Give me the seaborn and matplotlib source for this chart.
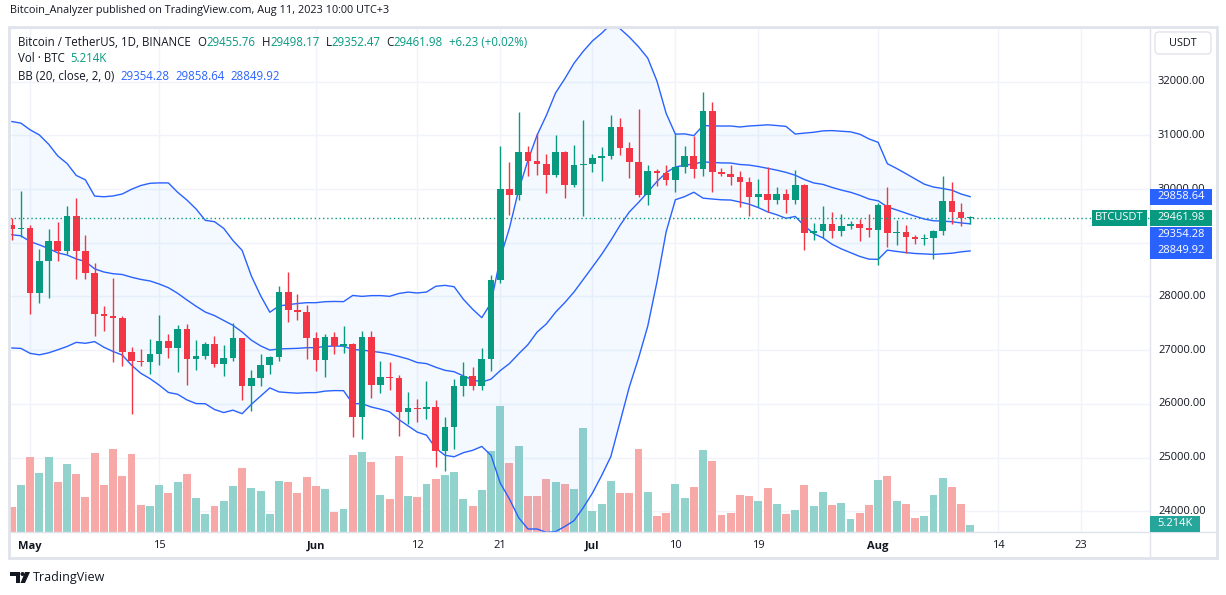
import numpy as np
import pandas as pd
import matplotlib
matplotlib.use("Agg")
import matplotlib.pyplot as plt
import seaborn as sns
from matplotlib.patches import Rectangle, FancyBboxPatch, Polygon
from matplotlib.lines import Line2D
from matplotlib.transforms import blended_transform_factory

sns.set_theme(style="white")
plt.rcParams['font.family'] = ['Open Sans', 'DejaVu Sans']

# ---------------- data (BTCUSDT 1D, Binance) ----------------
dates = pd.date_range('2023-04-29', '2023-08-11', freq='D')

opens = [29340, 29248, 29268, 28068, 28670, 29026, 28838, 29506, 28848, 28430,
         27668, 27628, 27598, 26969, 26805, 26784, 26931, 27171, 27036, 27398,
         26833, 26890, 27113, 26747, 26851, 27225, 26334, 26476, 26719, 26868,
         28085, 27745, 27702, 27219, 26819, 27249, 27075, 27119, 25760, 27238,
         26345, 26498, 26477, 25841, 25925, 25903, 25940, 25125, 25575, 26333,
         26511, 26336, 26842, 28307, 29993, 29886, 30688, 30527, 30462, 30267,
         30692, 30078, 30445, 30472, 30585, 30617, 31156, 30766, 30504, 29895,
         30346, 30292, 30171, 30414, 30620, 30380, 31454, 30312, 30289, 30231,
         30138, 29859, 29910, 29800, 29908, 29792, 30083, 29176, 29228, 29354,
         29211, 29314, 29352, 29281, 29232, 29705, 29186, 29193, 29113, 29072,
         29088, 29211, 29770, 29582, 29455.76]
highs = [29468, 29960, 29338, 28880, 29266, 29379, 29677, 29840, 29138, 28631,
         27820, 28336, 27638, 27055, 27030, 27200, 27659, 27299, 27465, 27487,
         27183, 27156, 27265, 27099, 27500, 27225, 26634, 26933, 26888, 28193,
         28447, 28045, 27835, 27347, 27300, 27333, 27450, 27129, 27350, 27355,
         26800, 26783, 26530, 26221, 26100, 26428, 26080, 25750, 26471, 26775,
         26689, 27046, 28400, 30800, 30500, 31431, 30800, 31046, 30662, 31000,
         30703, 30828, 31282, 30660, 30791, 31380, 31325, 30878, 31500, 30449,
         30383, 30445, 31045, 30800, 30980, 31804, 31630, 30390, 30440, 30336,
         30233, 30184, 30417, 30045, 29999, 30350, 30099, 29376, 29690, 29567,
         29530, 29400, 29449, 29530, 29739, 30047, 29433, 29333, 29152, 29170,
         29244, 30244, 30136, 29739, 29498.17]
lows = [29059, 29100, 27666, 27872, 27963, 28667, 28800, 28330, 28331, 27260,
        27353, 26777, 26706, 25811, 26700, 26560, 26733, 26852, 26600, 26361,
        26636, 26833, 26678, 26527, 26800, 26081, 25871, 26337, 26554, 26800,
        27524, 27562, 26839, 26605, 26508, 26920, 26947, 25388, 25351, 26117,
        26206, 26265, 25400, 25620, 25662, 25720, 24820, 24758, 25160, 26156,
        26250, 26256, 26618, 28260, 29525, 29800, 30250, 30270, 29920, 30226,
        29838, 30036, 29500, 30320, 30155, 30560, 30636, 30200, 29850, 29701,
        30050, 30075, 29950, 30300, 30200, 30250, 29940, 30250, 30080, 29659,
        29500, 29671, 29565, 29720, 29560, 29730, 28861, 29047, 29096, 29083,
        29125, 29256, 29033, 29101, 28585, 28927, 28968, 28803, 28978, 28963,
        28701, 29152, 29350, 29316, 29352.47]
closes = [29248, 29268, 28068, 28670, 29026, 28838, 29506, 28848, 28430, 27668,
          27628, 27598, 26969, 26805, 26784, 26931, 27171, 27036, 27398, 26833,
          26890, 27113, 26747, 26851, 27225, 26334, 26476, 26719, 26868, 28085,
          27745, 27702, 27219, 26819, 27249, 27075, 27119, 25760, 27238, 26345,
          26498, 26477, 25841, 25925, 25903, 25940, 25125, 25575, 26333, 26511,
          26336, 26842, 28307, 29993, 29886, 30688, 30527, 30462, 30267, 30692,
          30078, 30445, 30472, 30585, 30617, 31156, 30766, 30504, 29895, 30346,
          30292, 30171, 30414, 30620, 30380, 31454, 30312, 30289, 30231, 30138,
          29859, 29910, 29800, 29908, 29792, 30083, 29176, 29228, 29354, 29211,
          29314, 29352, 29281, 29232, 29705, 29186, 29193, 29113, 29072, 29088,
          29211, 29770, 29582, 29455.76, 29461.98]
# volume in thousand BTC
volumes = [19.5, 36.3, 58.4, 45.9, 58.4, 38.9, 52.7, 45.1, 27.2, 61.5,
           36.6, 64.4, 43.6, 60.5, 21.0, 20.2, 36.6, 30.4, 38.9, 45.1,
           26.5, 14.0, 20.2, 24.1, 35.8, 49.8, 34.2, 31.9, 14.0, 39.7,
           38.9, 30.4, 42.8, 35.8, 33.5, 15.6, 17.9, 59.9, 62.3, 54.5,
           28.8, 25.7, 59.1, 28.0, 27.2, 37.4, 41.2, 44.4, 46.7, 25.7,
           20.2, 32.7, 62.8, 97.8, 53.7, 66.7, 27.8, 27.8, 41.0, 38.7,
           37.1, 33.2, 80.7, 16.1, 21.6, 39.5, 30.1, 30.1, 64.4, 30.9,
           12.2, 14.6, 37.1, 26.2, 34.8, 63.6, 55.0, 13.0, 14.6, 28.6,
           27.8, 23.9, 34.0, 21.6, 13.8, 16.9, 36.3, 20.0, 30.9, 20.8,
           22.3, 9.9, 14.6, 20.8, 40.2, 43.3, 23.9, 21.6, 10.7, 12.2,
           28.6, 41.8, 34.8, 21.6, 5.214]
# closes Apr 10 - Apr 28, needed for the first BB(20) values
warmup_closes = [29654, 30236, 29890, 30373, 30466, 30297, 30304, 29430, 30380, 28797,
                 28244, 27262, 27817, 27591, 27514, 28300, 28415, 29472, 29311]

# values shown in the legend / price scale of the reference
bb_shown = {'basis': '29354.28', 'upper': '29858.64', 'lower': '28849.92'}
change_shown = '+6.23 (+0.02%)'
vol_shown = '5.214K'

tick_dates = ['2023-05-01', '2023-05-15', '2023-06-01', '2023-06-12', '2023-06-21',
              '2023-07-01', '2023-07-10', '2023-07-19', '2023-08-01', '2023-08-14',
              '2023-08-23']
tick_labels = ['May', '15', 'Jun', '12', '21', 'Jul', '10', '19', 'Aug', '14', '23']
price_ticks = [24000, 25000, 26000, 27000, 28000, 29000, 30000, 31000, 32000]
# 29000 label is hidden behind the price boxes in the reference
price_labels = [24000, 25000, 26000, 27000, 28000, 30000, 31000, 32000]

# BB (20, close, 2)
all_closes = pd.Series(warmup_closes + closes, dtype=float)
n0 = len(warmup_closes)
basis = all_closes.rolling(20).mean().iloc[n0:].to_numpy()
dev = all_closes.rolling(20).std(ddof=0).iloc[n0:].to_numpy()
upper = basis + 2 * dev
lower = basis - 2 * dev

df = pd.DataFrame({'i': np.arange(len(dates)), 'o': opens, 'h': highs, 'l': lows,
                   'c': closes, 'v': volumes, 'up': upper, 'mid': basis, 'lo': lower})
df['rise'] = df['c'] >= df['o']

UP, DOWN = '#089981', '#f23645'
VUP, VDOWN = '#92d2cc', '#f7a9a7'
BLUE = '#2962ff'
TXT = '#131722'
GRID = '#f0f3fa'
FRAME = '#e0e3eb'

# ---------------- layout ----------------
W, H = 1226, 595
fig = plt.figure(figsize=(W / 100, H / 100), dpi=100)
fig.patch.set_facecolor('white')
L, R, T, B = 10, 1150, 27, 532
pos = [L / W, 1 - B / H, (R - L) / W, (B - T) / H]
x0 = -0.184
x1 = 123.49
tick_idx = [(pd.Timestamp(t) - dates[0]).days for t in tick_dates]

# background axes: grid + volume
axv = fig.add_axes(pos)
axv.set_xlim(x0, x1)
axv.set_ylim(0, 393)
axv.set_facecolor('white')
for s in axv.spines.values():
    s.set_visible(False)
axv.set_xticks([])
axv.set_yticks([])

# price axes on top
ax = fig.add_axes(pos)
ax.set_xlim(x0, x1)
ax.set_ylim(23614, 33019)
ax.patch.set_visible(False)
for s in ax.spines.values():
    s.set_visible(False)
ax.set_xticks([])
ax.set_yticks([])

# grid lines
bt = blended_transform_factory(axv.transAxes, ax.transData)
for p in price_ticks + [33000]:
    axv.add_line(Line2D([0, 1], [p, p], transform=bt, color=GRID, lw=1, zorder=0))
for t in tick_idx:
    axv.axvline(t, color=GRID, lw=1, zorder=0)

# volume bars
vcol = [VUP if r else VDOWN for r in df['rise']]
axv.bar(df['i'], df['v'], width=0.86, color=vcol, zorder=2, linewidth=0)

# bollinger bands
ax.fill_between(df['i'], df['lo'], df['up'], color='#2196f3', alpha=0.05, lw=0, zorder=1)
for col in ['up', 'mid', 'lo']:
    sns.lineplot(data=df, x='i', y=col, ax=ax, color=BLUE, lw=1, zorder=2)
ax.set_xlabel('')
ax.set_ylabel('')

# candles
ccol = [UP if r else DOWN for r in df['rise']]
ax.vlines(df['i'], df['l'], df['h'], colors=ccol, lw=1, zorder=3)
body_lo = np.minimum(df['o'], df['c'])
body_h = np.maximum(np.abs(df['c'] - df['o']), 20)
ax.bar(df['i'], body_h, bottom=body_lo, width=0.72, color=ccol, linewidth=0, zorder=4)

# last price dotted line
last = closes[-1]
ax.axhline(last, color=UP, lw=1, ls=(0, (1, 2)), zorder=5)

ax.set_xlim(x0, x1)
ax.set_ylim(23614, 33019)

# ---------------- overlay (pixel coords) ----------------
ov = fig.add_axes([0, 0, 1, 1], zorder=10)
ov.set_xlim(0, W)
ov.set_ylim(H, 0)
ov.axis('off')
ov.patch.set_visible(False)


def ypx(price):
    return H - ax.transData.transform((0, price))[1]


def xpx(i):
    return ax.transData.transform((i, 0))[0]


# frame
ov.add_patch(Rectangle((9, 27), 1208, 531, fill=False, ec=FRAME, lw=2, zorder=1))
ov.plot([1150, 1150], [27, 558], color=FRAME, lw=1, zorder=1)
ov.plot([9, 1217], [532, 532], color=FRAME, lw=1, zorder=1)

FS = 8
# price tick labels
for p in price_labels:
    ov.text(1158, ypx(p), f'{p:.2f}', fontsize=FS, color=TXT, va='center', ha='left', zorder=2)

# time tick labels
for t, lab in zip(tick_idx, tick_labels):
    bold = lab.isalpha()
    ov.text(xpx(t), 546, lab, fontsize=FS, color=TXT, ha='center', va='center',
            fontweight='bold' if bold else 'normal', zorder=2)


def price_box(yc, text, color, x_left=1150, x_right=1212):
    ov.add_patch(Rectangle((x_left, yc - 8), x_right - x_left, 16, color=color, lw=0, zorder=4))
    ov.text((x_left + x_right) / 2, yc, text, color='white', fontsize=FS, ha='center',
            va='center', zorder=5)


y_last = ypx(last)
price_box(ypx(upper[-1]), bb_shown['upper'], BLUE)
price_box(y_last, f'{last:.2f}', UP)
price_box(y_last + 17, bb_shown['basis'], BLUE)
price_box(ypx(lower[-1]), bb_shown['lower'], BLUE)
price_box(y_last, 'BTCUSDT', UP, 1092, 1147)
# volume value label
ov.add_patch(Rectangle((1150, 516), 50, 16, color='#26a69a', lw=0, zorder=4))
ov.text(1175, 524, vol_shown, color='white', fontsize=FS, ha='center',
        va='center', zorder=5)

# currency box
ov.add_patch(FancyBboxPatch((1155, 32), 56, 22, boxstyle='round,pad=0,rounding_size=4',
                            fc='white', ec=FRAME, lw=1, zorder=4))
ov.text(1183, 43, 'USDT', color=TXT, fontsize=7.8, ha='center', va='center', zorder=5)

# header texts
fig.canvas.draw()
rend = fig.canvas.get_renderer()


def seq_text(x, y, parts, size=8.3):
    for s, c, gap in parts:
        t = ov.text(x, y, s, color=c, fontsize=size, ha='left', va='center', zorder=5)
        x += t.get_window_extent(renderer=rend).width + gap


ov.text(10, 11, 'Bitcoin_Analyzer published on TradingView.com, Aug 11, 2023 10:00 UTC+3',
        color=TXT, fontsize=7.8, ha='left', va='center')

ohlc = [('Bitcoin / TetherUS, 1D, BINANCE', TXT, 7),
        ('O', TXT, 0), (f'{opens[-1]:.2f}', UP, 6),
        ('H', TXT, 0), (f'{highs[-1]:.2f}', UP, 6),
        ('L', TXT, 0), (f'{lows[-1]:.2f}', UP, 6),
        ('C', TXT, 0), (f'{closes[-1]:.2f}', UP, 6),
        (change_shown, UP, 0)]
seq_text(18, 42, ohlc)
seq_text(18, 59, [('Vol · BTC', TXT, 6), (vol_shown, UP, 0)])
seq_text(18, 76, [('BB (20, close, 2, 0)', TXT, 6),
                  (bb_shown['basis'], BLUE, 6),
                  (bb_shown['upper'], BLUE, 6),
                  (bb_shown['lower'], BLUE, 0)])

# TradingView footer logo
ov.add_patch(Polygon([(10, 572), (20, 572), (20, 583), (16, 583), (16, 576), (10, 576)],
                     closed=True, color=TXT, lw=0))
ov.add_patch(plt.Circle((22.5, 574), 2, color=TXT, lw=0))
ov.add_patch(Polygon([(25, 572), (30, 572), (25, 583), (20.5, 583)], closed=True, color=TXT, lw=0))
ov.text(33, 577, 'TradingView', color=TXT, fontsize=9, ha='left', va='center')

fig.savefig('out.png', dpi=100, facecolor='white')
